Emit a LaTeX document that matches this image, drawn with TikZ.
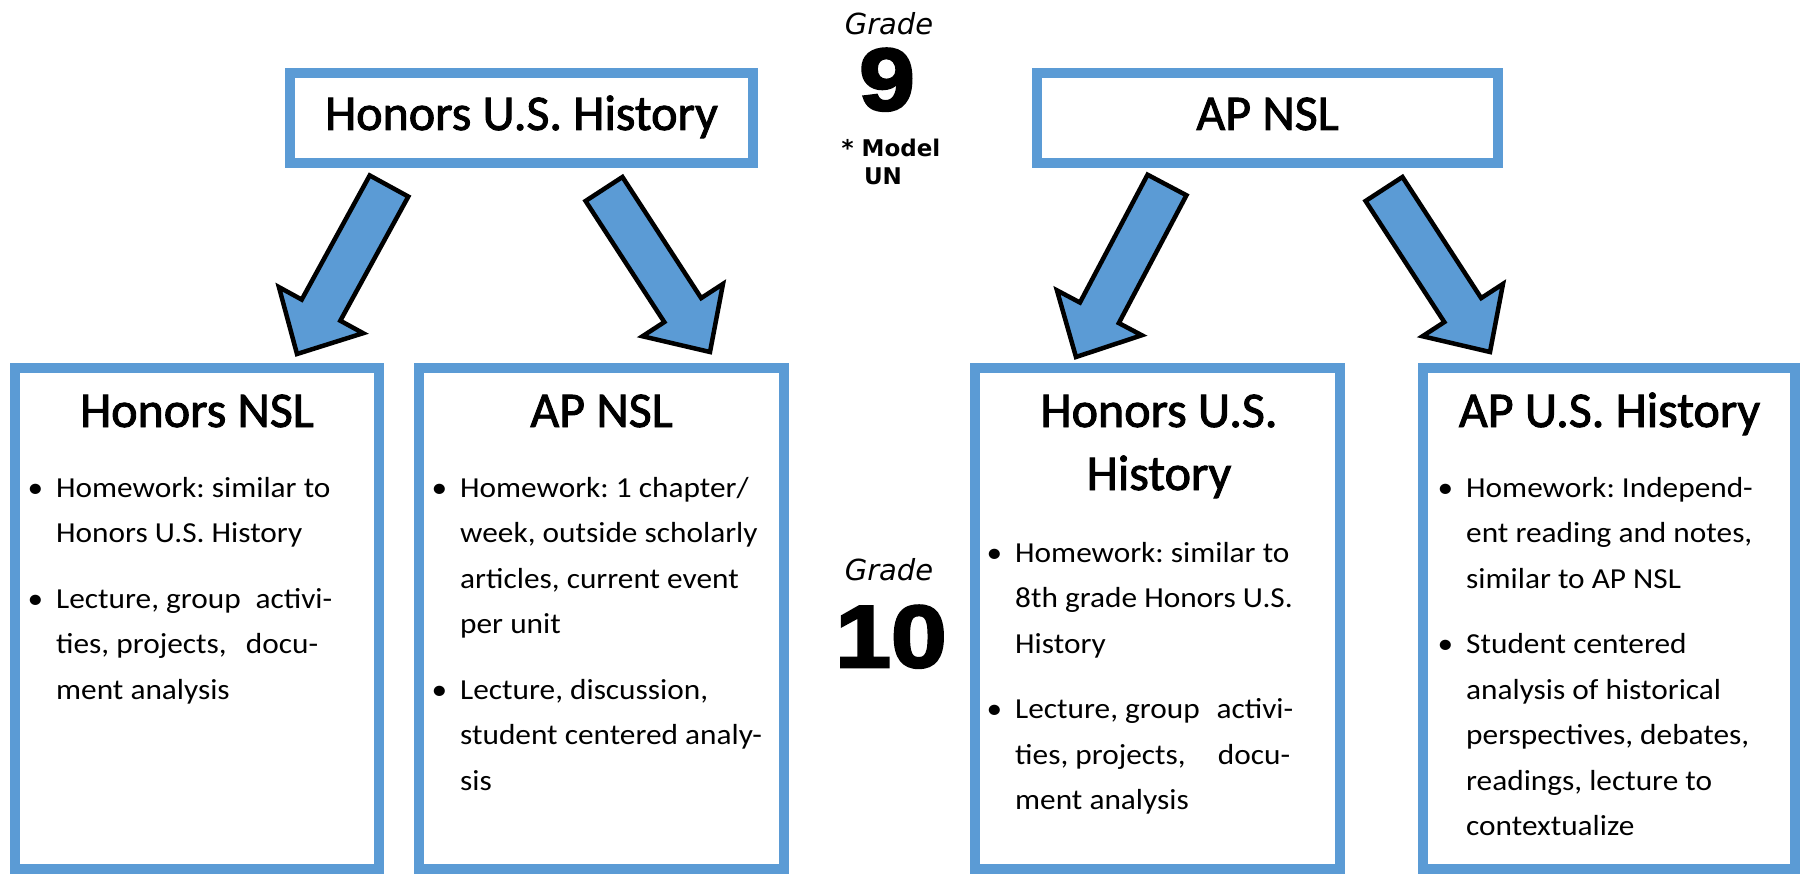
\documentclass[tikz,border=0pt]{standalone}
\usepackage{fontspec}
\usetikzlibrary{calc}
\setmainfont{Carlito}
\newfontfamily\bodyfont{Carlito}[FakeStretch=1.08]
\newfontfamily\headfont{Carlito}[FakeBold=1.8]
\newfontfamily\gradefont{DejaVu Sans}
\newfontfamily\numfont{Liberation Sans}[BoldFeatures={FakeBold=3,FakeStretch=1.14}]
\definecolor{boxblue}{HTML}{5B9BD5}
\definecolor{arrowblue}{HTML}{5B9BD5}
\newcommand\bul{\leavevmode\llap{\textbullet\hspace{13pt}}}
\newcommand\jline[2]{\leavevmode\hbox to #1{#2}}
\newcommand\bigarrowdraw[2]{%
  \path ($(#2)!50pt!(#1)$) coordinate (n#1);
  \draw[blockarrow] ($(#1)!22pt!90:(#2)$) -- ($(n#1)!22pt!90:(#2)$)
    -- ($(n#1)!48pt!90:(#2)$) -- (#2) -- ($(n#1)!48pt!-90:(#2)$)
    -- ($(n#1)!22pt!-90:(#2)$) -- ($(#1)!22pt!-90:(#2)$) -- cycle;}
\tikzset{
  panel/.style={draw=boxblue, line width=10pt, fill=white, inner sep=0pt},
  head/.style={font=\headfont\fontsize{50}{63}\selectfont, inner sep=0pt, anchor=base},
  body/.style={font=\bodyfont\fontsize{29}{45.5}\selectfont\frenchspacing, inner sep=0pt, anchor=base west},
  gradelbl/.style={font=\gradefont\itshape\fontsize{29}{30}\selectfont, inner sep=0pt, anchor=base},
  gradenum/.style={font=\numfont\bfseries\fontsize{88}{90}\selectfont, inner sep=0pt, anchor=base},
  munote/.style={font=\gradefont\bfseries\fontsize{23}{28}\selectfont, inner sep=0pt, anchor=base},
  blockarrow/.style={draw=black, line width=4.5pt, fill=arrowblue, line join=miter},
}
\begin{document}
\begin{tikzpicture}[x=1pt,y=-1pt]
\useasboundingbox (0,0) rectangle (1814,874);
\fill[white] (0,0) rectangle (1814,874);

% top boxes
\node[panel, minimum width=463pt, minimum height=90pt] (tl) at (521.5,118) {};
\node[panel, minimum width=461pt, minimum height=90pt] (tr) at (1267.5,118) {};
\node[head] (tlh) at (521.5,130) {Honors U.S. History};
\node[head] (trh) at (1267.5,130) {AP NSL};

% bottom boxes
\node[panel, minimum width=364pt, minimum height=501pt] (b1) at (197,618.5) {};
\node[panel, minimum width=365pt, minimum height=501pt] (b2) at (601.5,618.5) {};
\node[panel, minimum width=365pt, minimum height=501pt] (b3) at (1157.5,618.5) {};
\node[panel, minimum width=372pt, minimum height=501pt] (b4) at (1609,618.5) {};

\node[head] (b1h) at (197,427) {Honors NSL};
\node[head] (b2h) at (601.5,427) {AP NSL};
\node[head] (b3h) at (1159,427) {Honors U.S.};
\node[head] (b3h2) at (1159,490) {History};
\node[head] (b4h) at (1609.5,427) {AP U.S. History};

\node[body] (b1t) at (56,497) {\parbox[t]{330pt}{\raggedright
\bul Homework: similar to\\
Honors U.S. History\\[20pt]
\bul \jline{276pt}{Lecture, group\hfill activi-}\\
\jline{262pt}{ties, projects,\hfill docu-}\\
ment analysis}};

\node[body] (b2t) at (460,497) {\parbox[t]{330pt}{\raggedright
\bul Homework: 1 chapter/\\
week, outside scholarly\\
articles, current event\\
per unit\\[20pt]
\bul Lecture, discussion,\\
student centered analy-\\
sis}};

\node[body] (b3t) at (1015,562) {\parbox[t]{330pt}{\raggedright
\bul Homework: similar to\\
8th grade Honors U.S.\\
History\\[20pt]
\bul \jline{278pt}{Lecture, group\hfill activi-}\\
\jline{275pt}{ties, projects,\hfill docu-}\\
ment analysis}};

\node[body] (b4t) at (1466,497) {\parbox[t]{330pt}{\raggedright
\bul Homework: Independ-\\
ent reading and notes,\\
similar to AP NSL\\[20pt]
\bul Student centered\\
analysis of historical\\
perspectives, debates,\\
readings, lecture to\\
contextualize}};

% grade labels
\node[gradelbl] (g9l) at (889,35) {Grade};
\node[gradenum] (g9) at (887,110) {9};
\node[munote] (mu1) at (891,157) {* Model};
\node[munote] (mu2) at (883,185) {UN};
\node[gradelbl] (g10l) at (889,580) {Grade};
\node[gradenum] (g10) at (891,667) {10};

% block arrows
\coordinate (a1t) at (389,186); \coordinate (a1p) at (297,354);
\coordinate (a2t) at (604,189); \coordinate (a2p) at (710,352);
\coordinate (a3t) at (1167,185); \coordinate (a3p) at (1076,357);
\coordinate (a4t) at (1384,189); \coordinate (a4p) at (1490,352);
\bigarrowdraw{a1t}{a1p}
\bigarrowdraw{a2t}{a2p}
\bigarrowdraw{a3t}{a3p}
\bigarrowdraw{a4t}{a4p}
\end{tikzpicture}
\end{document}
